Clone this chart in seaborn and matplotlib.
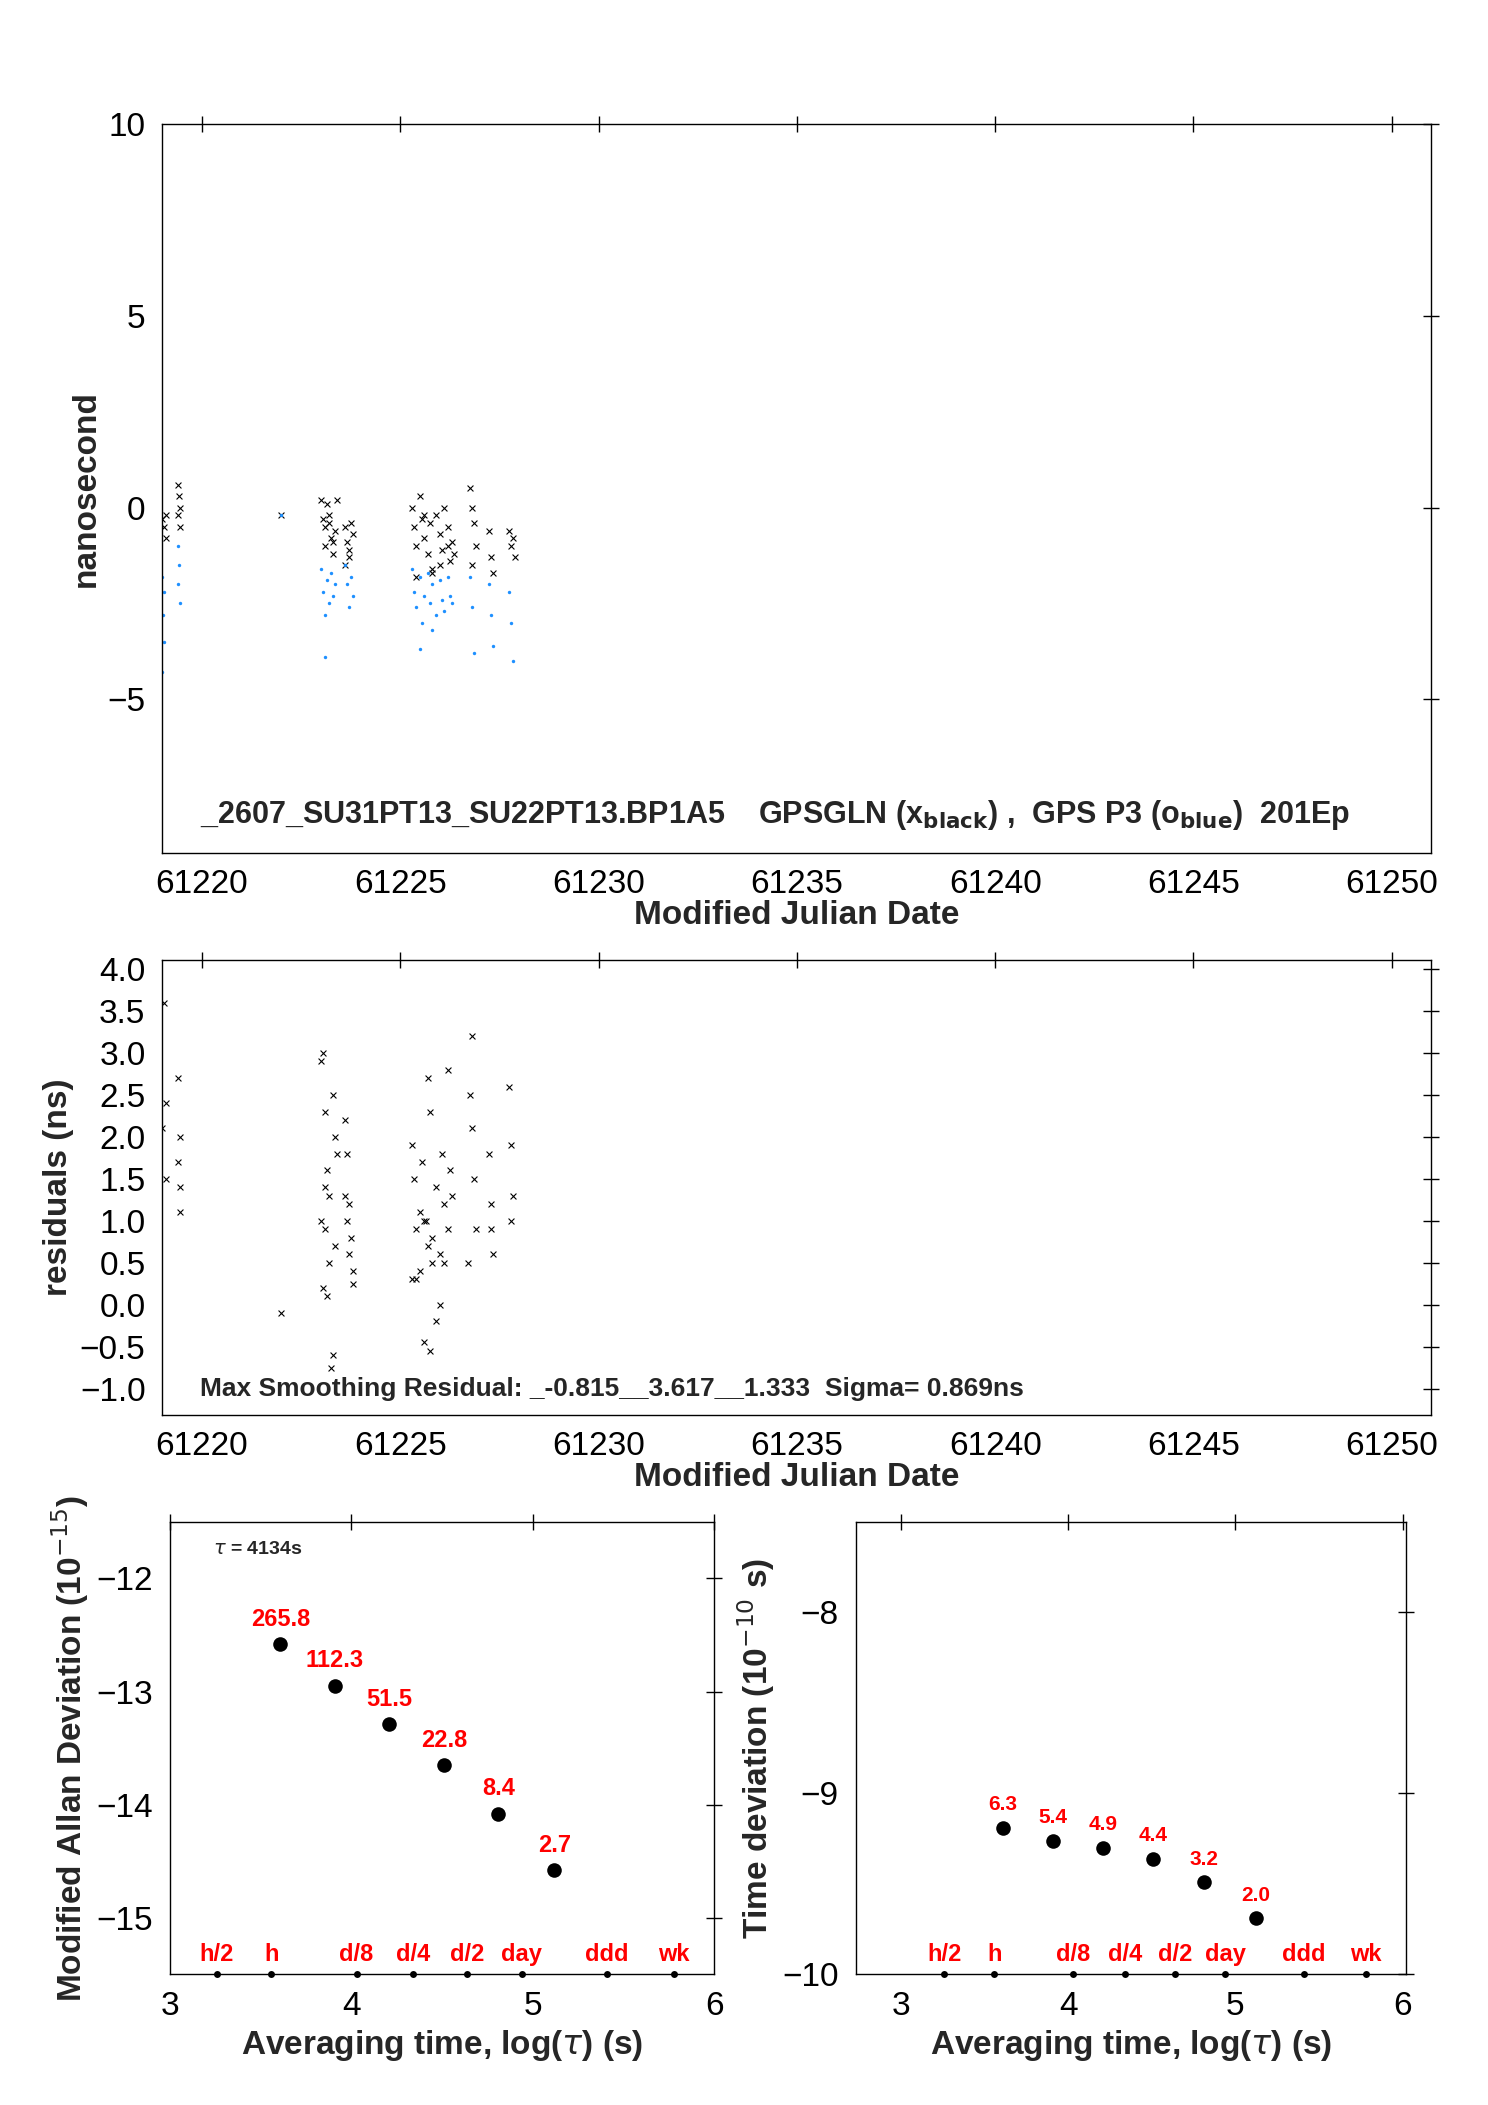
import matplotlib
matplotlib.use("Agg")
import matplotlib.pyplot as plt
import seaborn as sns
import pandas as pd

sns.set_theme(style="white")
plt.rcParams['font.family'] = ['Liberation Sans', 'DejaVu Sans']

# top panel: GPSGLN (black x) and GPS P3 (blue dots)
blk_x = [61219.0,61219.05,61219.1,61219.1,61219.4,61219.42,61219.45,61219.4,61219.45,
         61222.0,
         61223.0,61223.05,61223.1,61223.15,61223.2,61223.25,61223.3,61223.35,61223.4,61223.1,61223.2,61223.3,61223.6,61223.65,61223.7,61223.75,61223.8,61223.6,61223.7,
         61225.3,61225.35,61225.4,61225.5,61225.55,61225.6,61225.7,61225.75,61225.8,61225.9,61226.0,61226.05,61226.1,61226.2,61226.25,61226.3,61226.35,61225.4,61225.6,61225.8,61226.0,61226.2,
         61226.75,61226.8,61226.85,61226.9,61226.8,61227.25,61227.3,61227.35,61227.75,61227.8,61227.85,61227.9]
blk_y = [-0.3,-0.5,-0.8,-0.2,0.6,0.3,0.0,-0.2,-0.5,
         -0.2,
         0.2,-0.3,-0.5,0.1,-0.4,-0.8,-1.2,-0.6,0.2,-1.0,-0.2,-0.9,-0.5,-0.9,-1.3,-0.4,-0.7,-1.5,-1.1,
         0.0,-0.5,-1.0,0.3,-0.3,-0.8,-1.2,-0.4,-1.6,-0.2,-0.7,-1.1,0.0,-0.5,-1.4,-0.9,-1.2,-1.8,-0.2,-1.7,-1.5,-1.0,
         0.5,0.0,-0.4,-1.0,-1.5,-0.6,-1.3,-1.7,-0.6,-1.0,-0.8,-1.3]
blu_x = [61219.0,61219.02,61219.05,61219.0,61219.05,61219.4,61219.42,61219.45,61219.4,
         61222.0,
         61223.0,61223.05,61223.1,61223.15,61223.2,61223.25,61223.3,61223.35,61223.1,61223.6,61223.65,61223.7,61223.75,61223.8,
         61225.3,61225.35,61225.4,61225.5,61225.55,61225.6,61225.7,61225.75,61225.8,61225.9,61226.0,61226.05,61226.1,61226.2,61226.25,61226.3,61225.5,61225.8,
         61226.75,61226.8,61226.85,61227.25,61227.3,61227.35,61227.75,61227.8,61227.85]
blu_y = [-1.8,-2.8,-3.5,-4.3,-2.2,-1.0,-1.5,-2.5,-2.0,
         -0.2,
         -1.6,-2.2,-2.8,-1.9,-2.5,-1.7,-2.3,-2.0,-3.9,-1.5,-2.0,-2.6,-1.8,-2.3,
         -1.6,-2.2,-2.6,-1.8,-3.0,-2.3,-1.7,-2.5,-2.0,-2.8,-1.9,-2.4,-2.7,-1.8,-2.3,-2.5,-3.7,-3.2,
         -1.8,-2.6,-3.8,-2.0,-2.8,-3.6,-2.2,-3.0,-4.0]

# middle panel residuals
res_x = [61219.05,61219.1,61219.0,61219.1,61219.4,61219.45,61219.4,61219.45,61219.45,
         61222.0,
         61223.0,61223.05,61223.1,61223.15,61223.2,61223.1,61223.2,61223.05,61223.15,61223.3,61223.35,61223.4,61223.0,61223.1,61223.3,61223.25,61223.35,
         61223.6,61223.65,61223.7,61223.75,61223.8,61223.6,61223.7,61223.8,61223.65,
         61225.3,61225.35,61225.4,61225.5,61225.55,61225.6,61225.7,61225.75,61225.8,61225.9,61226.0,61226.05,61226.1,61226.2,61226.25,61226.3,61225.4,61225.6,61225.8,61226.0,61226.2,61225.3,61225.5,61225.7,61225.9,61226.1,61225.65,61225.75,
         61226.75,61226.8,61226.85,61226.9,61226.8,61226.7,61227.25,61227.3,61227.35,61227.3,61227.75,61227.8,61227.85,61227.8]
res_y = [3.6,2.4,2.1,1.5,2.7,2.0,1.7,1.4,1.1,
         -0.1,
         2.9,3.0,2.3,1.6,1.3,0.9,0.5,0.2,0.1,2.5,2.0,1.8,1.0,1.4,-0.6,-0.75,0.7,
         2.2,1.8,1.2,0.8,0.4,1.3,0.6,0.25,1.0,
         1.9,1.5,0.9,0.4,1.7,1.0,2.7,2.3,0.8,1.4,0.6,1.8,1.2,0.9,1.6,1.3,0.3,-0.45,0.5,0.0,2.8,0.3,1.1,0.7,-0.2,0.5,1.0,-0.55,
         2.5,2.1,1.5,0.9,3.2,0.5,1.8,1.2,0.6,0.9,2.6,1.9,1.3,1.0]

# stability panels
tau_log = [3.61, 3.91, 4.21, 4.51, 4.81, 5.12]
adev = [-12.58, -12.95, -13.29, -13.65, -14.08, -14.58]
adev_lbl = ["265.8", "112.3", "51.5", "22.8", "8.4", "2.7"]
tdev = [-9.19, -9.26, -9.30, -9.36, -9.49, -9.69]
tdev_lbl = ["6.3", "5.4", "4.9", "4.4", "3.2", "2.0"]
mark_pos = [3.26, 3.56, 4.03, 4.34, 4.64, 4.94, 5.41, 5.78]
mark_lbl = ["h/2", "h", "d/8", "d/4", "d/2", "day", "ddd", "wk"]

fig = plt.figure(figsize=(14.88, 21.05), dpi=100)
ax1 = fig.add_axes([0.109, 0.595, 0.853, 0.346])
ax2 = fig.add_axes([0.109, 0.328, 0.853, 0.216])
ax3 = fig.add_axes([0.114, 0.062, 0.366, 0.215])
ax4 = fig.add_axes([0.575, 0.062, 0.370, 0.215])

FS = 24
def style(ax):
    ax.tick_params(direction='inout', top=True, right=True, length=12, width=1, labelsize=FS, colors='black', pad=6)
    for s in ax.spines.values():
        s.set_color('black'); s.set_linewidth(1)

sns.scatterplot(x=blk_x, y=blk_y, ax=ax1, marker='x', color='black', s=18, linewidth=0.8)
sns.scatterplot(x=blu_x, y=blu_y, ax=ax1, marker='o', color='#1e90ff', s=6, linewidth=0)
ax1.set_xlim(61219, 61251); ax1.set_ylim(-9, 10)
ax1.set_xticks(range(61220, 61251, 5)); ax1.set_yticks([-5, 0, 5, 10])
ax1.set_ylabel("nanosecond", fontsize=24, fontweight='bold')
ax1.set_xlabel("Modified Julian Date", fontsize=24, fontweight='bold', labelpad=0)
ax1.text(0.03, 0.04, r"_2607_SU31PT13_SU22PT13.BP1A5    GPSGLN (x$_{\mathbf{black}}$) ,  GPS P3 (o$_{\mathbf{blue}}$)  201Ep",
         transform=ax1.transAxes, fontsize=22, fontweight='bold')
style(ax1)

sns.scatterplot(x=res_x, y=res_y, ax=ax2, marker='x', color='black', s=18, linewidth=0.8)
ax2.set_xlim(61219, 61251); ax2.set_ylim(-1.31, 4.11)
ax2.set_xticks(range(61220, 61251, 5)); ax2.set_yticks([-1.0,-0.5,0.0,0.5,1.0,1.5,2.0,2.5,3.0,3.5,4.0])
ax2.set_ylabel("residuals (ns)", fontsize=24, fontweight='bold')
ax2.set_xlabel("Modified Julian Date", fontsize=24, fontweight='bold', labelpad=0)
ax2.text(0.03, 0.04, "Max Smoothing Residual: _-0.815__3.617__1.333  Sigma= 0.869ns",
         transform=ax2.transAxes, fontsize=19, fontweight='bold')
style(ax2)

for ax, vals, lbls, ylim, ylab in [(ax3, adev, adev_lbl, (-15.5, -11.5), r"Modified Allan Deviation (10$^{-15}$)"),
                                   (ax4, tdev, tdev_lbl, (-10, -7.5), r"Time deviation (10$^{-10}$ s)")]:
    sns.scatterplot(x=tau_log, y=vals, ax=ax, color='black', s=110, linewidth=0)
    dy = (ylim[1]-ylim[0]) * 0.03
    for x, y, l in zip(tau_log, vals, lbls):
        ax.text(x, y + dy, l, color='red', fontsize=17 if ax is ax3 else 15, fontweight='bold', ha='center', va='bottom')
    sns.scatterplot(x=mark_pos, y=[ylim[0]]*len(mark_pos), ax=ax, color='black', s=25, linewidth=0, clip_on=False)
    for x, l in zip(mark_pos, mark_lbl):
        ax.text(x, ylim[0] + dy*0.6, l, color='red', fontsize=17, fontweight='bold', ha='center', va='bottom')
    ax.set_ylim(*ylim)
    ax.set_xticks([3, 4, 5, 6])
    ax.set_xlabel(r"Averaging time, log($\tau$) (s)", fontsize=24, fontweight='bold')
    ax.set_ylabel(ylab, fontsize=24, fontweight='bold')
    style(ax)
ax3.set_xlim(3, 6); ax3.set_yticks([-15, -14, -13, -12])
ax4.set_xlim(2.73, 6.02); ax4.set_yticks([-10, -9, -8])
ax3.text(0.08, 0.93, r"$\tau$ = 4134s", transform=ax3.transAxes, fontsize=14, fontweight='bold')

fig.savefig("out.png", dpi=100)
